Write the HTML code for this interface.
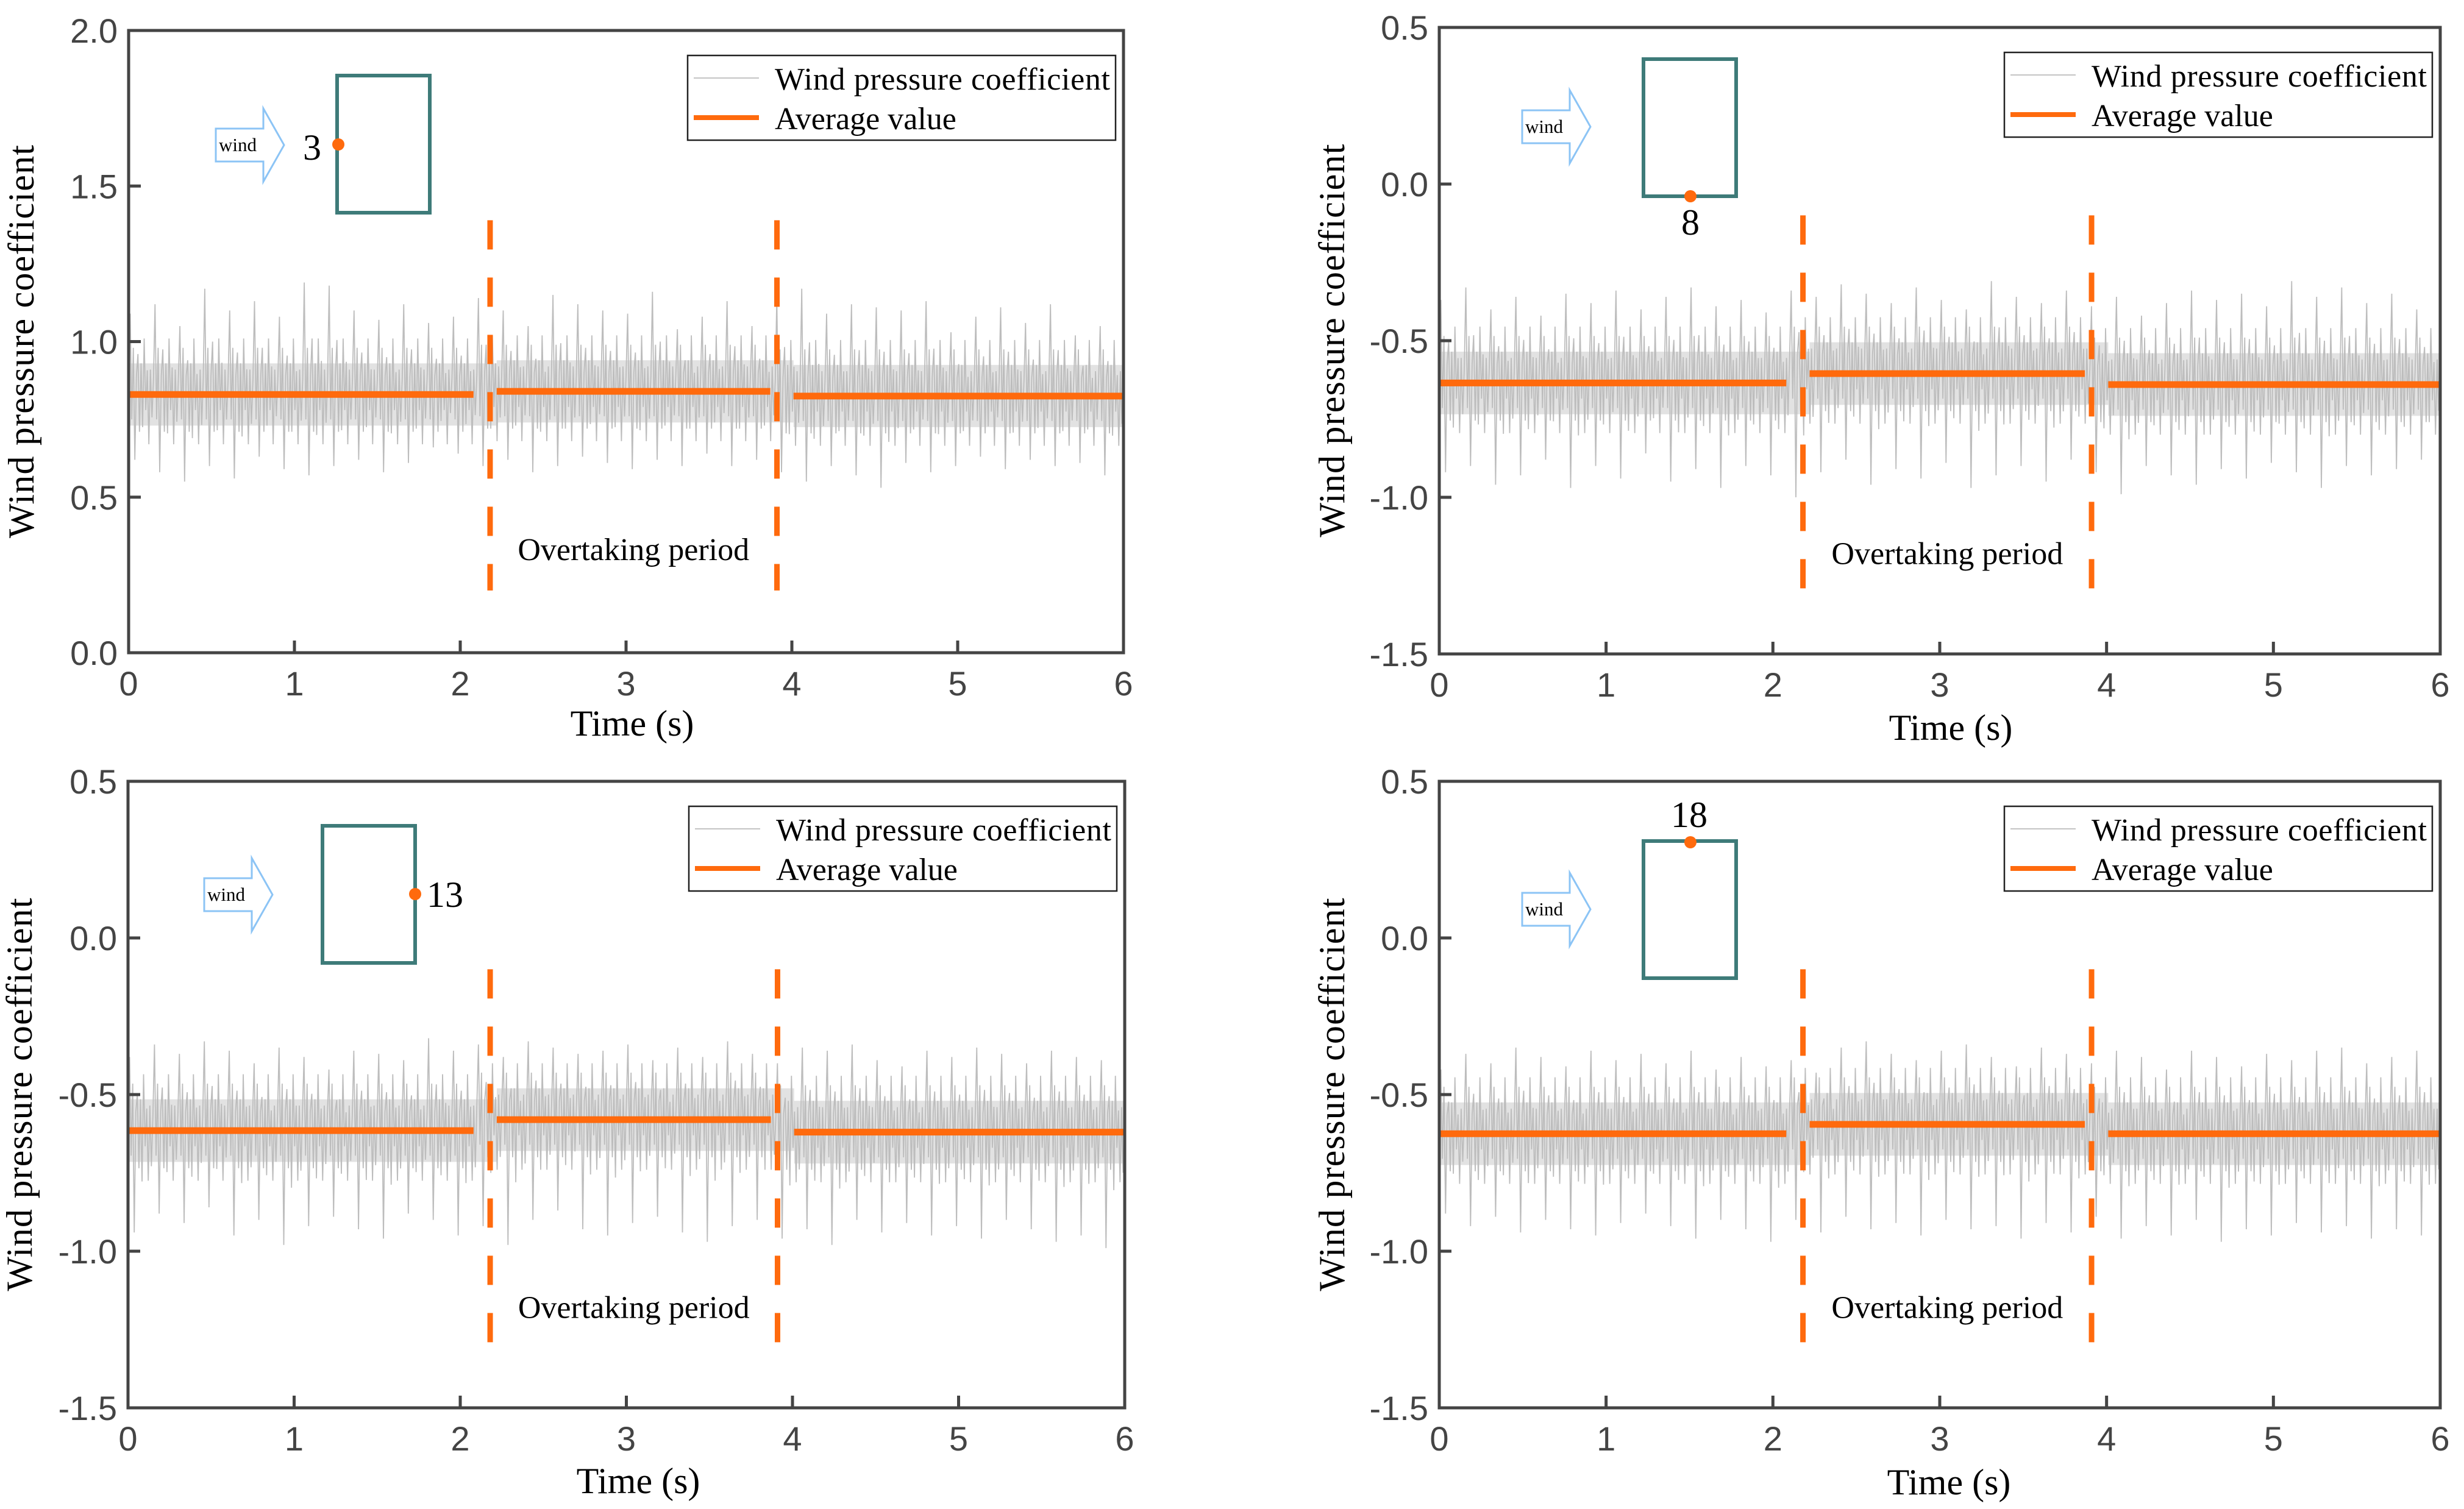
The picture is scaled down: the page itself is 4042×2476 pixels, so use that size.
<!DOCTYPE html>
<html><head><meta charset="utf-8">
<style>
html,body{margin:0;padding:0;background:#fff;}
svg{display:block;}
.tick{font-family:"Liberation Sans",sans-serif;font-size:56px;fill:#444;}
.ser{font-family:"Liberation Serif",serif;fill:#000;}
</style></head>
<body>
<svg id="fig" width="4042" height="2476" viewBox="0 0 4042 2476" xmlns="http://www.w3.org/2000/svg"></svg>
<script>
// ---- data ----
const xTicks = [0,1,2,3,4,5,6];
const tlYTicks = [0.0,0.5,1.0,1.5,2.0];
const otherYTicks = [-1.5,-1.0,-0.5,0.0,0.5];
const segStart = [0, 2.22, 4.01];
const segEnd = [2.08, 3.87, 6];
const overtakeTimes = [2.18, 3.91];
const tlMeans = [0.83, 0.84, 0.825];
const trMeans = [-0.635, -0.605, -0.64];
const blMeans = [-0.615, -0.58, -0.62];
const brMeans = [-0.625, -0.595, -0.625];
const tlHi = [1.09,1.12,1.05,1.17,1.1,1.13,1.08,1.19,1.18,1.1,1.07,1.12,1.06,1.08,1.14,1.1,1.05,1.15,1.12,1.1,1.09,1.16,1.04,1.08,1.13,1.05,1.14,1.17,1.09,1.12,1.11,1.1,1.13,1.03,1.08,1.11,1.06,1.12,1.02,1.05];
const tlLo = [0.62,0.58,0.55,0.6,0.56,0.63,0.59,0.57,0.6,0.62,0.58,0.61,0.66,0.64,0.6,0.62,0.58,0.6,0.63,0.61,0.59,0.62,0.6,0.64,0.6,0.62,0.58,0.55,0.6,0.57,0.53,0.61,0.58,0.6,0.63,0.59,0.62,0.6,0.61,0.57];
const trHi = [-0.37,-0.33,-0.4,-0.36,-0.42,-0.35,-0.38,-0.34,-0.4,-0.36,-0.33,-0.39,-0.37,-0.41,-0.34,-0.36,-0.32,-0.35,-0.38,-0.33,-0.37,-0.4,-0.31,-0.36,-0.38,-0.34,-0.39,-0.36,-0.42,-0.38,-0.34,-0.37,-0.35,-0.39,-0.31,-0.36,-0.33,-0.38,-0.35,-0.4];
const trLo = [-0.92,-0.9,-0.96,-0.93,-0.88,-0.97,-0.9,-0.94,-0.86,-0.95,-0.91,-0.97,-0.9,-0.93,-1.0,-0.92,-0.88,-0.96,-0.91,-0.94,-0.89,-0.97,-0.93,-0.9,-0.95,-0.88,-0.92,-0.99,-0.9,-0.93,-0.96,-0.91,-0.94,-0.89,-0.92,-0.97,-0.9,-0.93,-0.91,-0.88];
const blHi = [-0.38,-0.34,-0.37,-0.33,-0.36,-0.4,-0.35,-0.38,-0.42,-0.36,-0.37,-0.39,-0.32,-0.36,-0.34,-0.38,-0.33,-0.35,-0.37,-0.36,-0.34,-0.39,-0.35,-0.38,-0.33,-0.37,-0.4,-0.35,-0.36,-0.34,-0.39,-0.41,-0.36,-0.38,-0.35,-0.37,-0.4,-0.36,-0.38,-0.39];
const blLo = [-0.94,-0.88,-0.91,-0.86,-0.95,-0.9,-0.98,-0.92,-0.89,-0.93,-0.96,-0.88,-0.9,-0.95,-0.92,-0.98,-0.9,-0.87,-0.93,-0.95,-0.91,-0.89,-0.94,-0.97,-0.92,-0.9,-0.96,-0.93,-0.98,-0.9,-0.94,-0.91,-0.95,-0.92,-0.96,-0.9,-0.93,-0.97,-0.95,-0.99];
const brHi = [-0.42,-0.37,-0.4,-0.35,-0.38,-0.41,-0.36,-0.39,-0.37,-0.4,-0.36,-0.42,-0.38,-0.41,-0.39,-0.43,-0.35,-0.33,-0.37,-0.39,-0.36,-0.34,-0.38,-0.41,-0.35,-0.37,-0.4,-0.36,-0.38,-0.42,-0.36,-0.38,-0.41,-0.37,-0.39,-0.36,-0.35,-0.4,-0.38,-0.36];
const brLo = [-0.88,-0.92,-0.89,-0.94,-0.9,-0.93,-0.95,-0.91,-0.88,-0.92,-0.96,-0.9,-0.93,-0.97,-0.9,-0.94,-0.89,-0.93,-0.91,-0.95,-0.9,-0.93,-0.92,-0.96,-0.91,-0.94,-0.89,-0.96,-0.92,-0.95,-0.9,-0.97,-0.93,-0.95,-0.91,-0.94,-0.92,-0.96,-0.93,-0.95];
const tlLabel = "3", trLabel = "8", blLabel = "13", brLabel = "18";

// ---- drawing ----
const NS = "http://www.w3.org/2000/svg";
const svg = document.getElementById('fig');
function mk(tag, attrs, parent){const e=document.createElementNS(NS,tag);for(const k in attrs)e.setAttribute(k,attrs[k]);(parent||svg).appendChild(e);return e;}

const ORANGE = "#ff6a0d";
function panel(p){
  const g = mk('g',{});
  
  
  const X = t => p.L + (t-0)/(6-0)*(p.R-p.L);
  const Y = v => p.B - (v-p.ymin)/(p.ymax-p.ymin)*(p.B-p.T);
  const n = p.hi.length, dt = 6/n;
  const segMean = t => { for(let k=0;k<3;k++){ if(t<=segEnd[k]+0.07) return p.means[k]; } return p.means[2]; };
  // core band
  let cp=[];
  for(let k=0;k<3;k++){cp.push(X(segStart[k])+','+Y(p.means[k]+0.1));cp.push(X(k<2?segStart[k+1]:6)+','+Y(p.means[k]+0.1));}
  for(let k=2;k>=0;k--){cp.push(X(k<2?segStart[k+1]:6)+','+Y(p.means[k]-0.1));cp.push(X(segStart[k])+','+Y(p.means[k]-0.1));}
  const core = mk('polygon',{points:cp.join(' '),fill:'#d6d6d6',opacity:0.7},g);
  
  
  // noise texture: zigzag spikes through each bin's extremes
  let d='';
  for(let i=0;i<n;i++){
    const m = segMean((i+0.5)*dt);
    const hi=p.hi[i], lo=p.lo[i];
    const sub=[m+0.05, hi, m-0.08, m+0.15, lo, m+0.06, (hi+m)/2, m-0.12, m+0.1, (lo+m)/2, m+0.18, m-0.05, (hi*0.3+m*0.7), m-0.16, m+0.08, (lo*0.35+m*0.65)];
    for(let j=0;j<sub.length;j++){
      const t = i*dt + j*dt/sub.length;
      d += (i===0&&j===0?'M':'L') + X(t).toFixed(1)+','+Y(sub[j]).toFixed(1);
    }
  }
  const noise = mk('path',{d:d,fill:'none',stroke:'#bdbdbd','stroke-width':1.8},g);
  
  
  // averages
  for(let k=0;k<3;k++){
    const l = mk('line',{x1:X(segStart[k]),x2:X(segEnd[k]),y1:Y(p.means[k]),y2:Y(p.means[k]),stroke:ORANGE,'stroke-width':11},g);
    
    
  }
  // overtaking dashed lines
  overtakeTimes.forEach((t,k)=>{
    const l = mk('line',{x1:X(t),x2:X(t),y1:Y(p.dTop),y2:Y(p.dBot),stroke:ORANGE,'stroke-width':9,'stroke-dasharray':'48 46'},g);
    
    
  });
  const ot = mk('text',{x:(X(overtakeTimes[0])+X(overtakeTimes[1]))/2,y:Y(p.dBot)-50,'text-anchor':'middle','font-size':52,class:'ser'},g);
  ot.textContent='Overtaking period';
  
  
  // axes frame
  const fr = mk('rect',{x:p.L,y:p.T,width:p.R-p.L,height:p.B-p.T,fill:'none',stroke:'#444','stroke-width':5},g);
  
  
  xTicks.forEach(t=>{
    mk('line',{x1:X(t),x2:X(t),y1:p.B,y2:p.B-20,stroke:'#444','stroke-width':5},g);
    const tx = mk('text',{x:X(t),y:p.B+70,'text-anchor':'middle',class:'tick'},g);
    tx.textContent=t;
    
    
  });
  p.yt.forEach(v=>{
    mk('line',{x1:p.L,x2:p.L+20,y1:Y(v),y2:Y(v),stroke:'#444','stroke-width':5},g);
    const ty = mk('text',{x:p.L-18,y:Y(v)+20,'text-anchor':'end',class:'tick'},g);
    ty.textContent=v.toFixed(1);
    
    
  });
  const xt = mk('text',{x:p.xtX,y:p.xtY,'text-anchor':'middle','font-size':60,class:'ser'},g);
  xt.textContent='Time (s)';
  
  
  const yt = mk('text',{x:0,y:0,'text-anchor':'middle','font-size':60,class:'ser',textLength:645,lengthAdjust:'spacing',transform:`translate(${p.ytX},${(p.T+p.B)/2}) rotate(-90)`},g);
  yt.textContent='Wind pressure coefficient';
  
  
  // legend
  const lx = p.R-13-702, ly = p.T+41;
  const lg = mk('g',{},g);
  
  
  mk('rect',{x:lx,y:ly,width:702,height:139,fill:'#fff',stroke:'#222','stroke-width':2.5},lg);
  mk('line',{x1:lx+10,x2:lx+117,y1:ly+37,y2:ly+37,stroke:'#c4c4c4','stroke-width':2},lg);
  mk('line',{x1:lx+10,x2:lx+117,y1:ly+102,y2:ly+102,stroke:ORANGE,'stroke-width':8},lg);
  const l1 = mk('text',{x:lx+143,y:ly+56,'font-size':52,class:'ser',textLength:550},lg); l1.textContent='Wind pressure coefficient';
  
  
  const l2 = mk('text',{x:lx+143,y:ly+121,'font-size':52,class:'ser'},lg); l2.textContent='Average value';
  
  
  // inset
  const ig = mk('g',{},g);
  
  
  const a = p.arrow;
  const ax=a[0], ay=a[1];
  mk('polygon',{points:`${ax},${ay-27} ${ax+78},${ay-27} ${ax+78},${ay-60} ${ax+112},${ay} ${ax+78},${ay+60} ${ax+78},${ay+27} ${ax},${ay+27}`,fill:'#fff',stroke:'#8cc4f5','stroke-width':3},ig);
  const wt = mk('text',{x:ax+5,y:ay+10,'font-size':31,class:'ser'},ig); wt.textContent='wind';
  
  
  const b=p.bldg;
  mk('rect',{x:b[0],y:b[1],width:152,height:225,fill:'none',stroke:'#3e7b79','stroke-width':6},ig);
  mk('circle',{cx:p.dot[0],cy:p.dot[1],r:10,fill:ORANGE},ig);
  const nl = mk('text',{x:p.lab[0],y:p.lab[1],'font-size':60,class:'ser','text-anchor':p.lab[2]},ig); nl.textContent=p.label;
  
  
}

panel({name:'panel-point-3',L:211,R:1843,T:50,B:1071,ymin:0,ymax:2,yt:tlYTicks,hi:tlHi,lo:tlLo,means:tlMeans,dTop:1.39,dBot:0.2,
  xtX:1037,xtY:1207,ytX:55,arrow:[354,238],bldg:[553,124],dot:[555,237],lab:[497,262,'start'],label:tlLabel});
panel({name:'panel-point-8',L:2361,R:4003,T:45,B:1073,ymin:-1.5,ymax:0.5,yt:otherYTicks,hi:trHi,lo:trLo,means:trMeans,dTop:-0.1,dBot:-1.31,
  xtX:3200,xtY:1214,ytX:2205,arrow:[2497,208],bldg:[2696,97],dot:[2773,322],lab:[2773,385,'middle'],label:trLabel});
panel({name:'panel-point-13',L:210,R:1845,T:1282,B:2310,ymin:-1.5,ymax:0.5,yt:otherYTicks,hi:blHi,lo:blLo,means:blMeans,dTop:-0.1,dBot:-1.31,
  xtX:1047,xtY:2450,ytX:52,arrow:[335,1468],bldg:[529,1355],dot:[681,1467],lab:[700,1488,'start'],label:blLabel});
panel({name:'panel-point-18',L:2361,R:4003,T:1282,B:2310,ymin:-1.5,ymax:0.5,yt:otherYTicks,hi:brHi,lo:brLo,means:brMeans,dTop:-0.1,dBot:-1.31,
  xtX:3197,xtY:2452,ytX:2205,arrow:[2497,1492],bldg:[2696,1380],dot:[2773,1382],lab:[2771,1357,'middle'],label:brLabel});
</script>
</body></html>
